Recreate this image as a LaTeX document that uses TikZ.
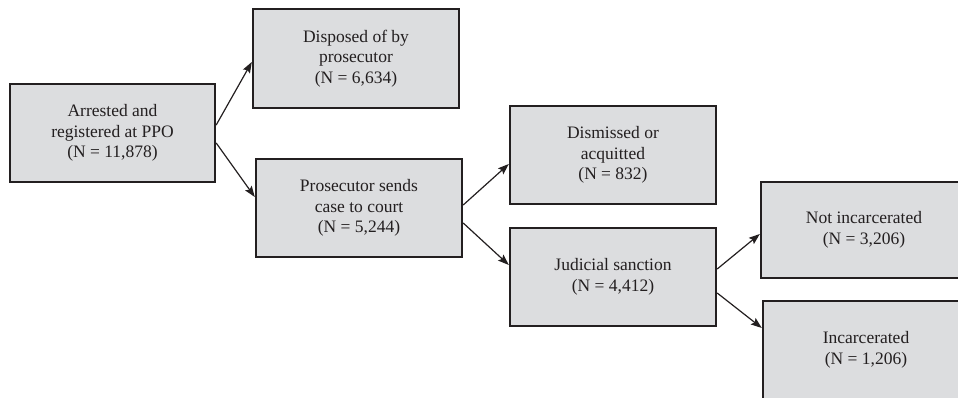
\documentclass[tikz,border=0pt]{standalone}
\usepackage{fontspec}
\setmainfont{Liberation Serif}
\usetikzlibrary{arrows.meta}
\definecolor{boxfill}{HTML}{DCDDDF}
\definecolor{boxline}{HTML}{231F20}
\begin{document}
\begin{tikzpicture}[x=1pt,y=-1pt,
  box/.style={draw=boxline, fill=boxfill, line width=2.4pt, rectangle,
    minimum width=206pt, minimum height=98pt, inner sep=0pt,
    align=center, font=\fontsize{17.5}{20.5}\selectfont, text=boxline},
  arr/.style={draw=boxline, line width=1.2pt, -{Stealth[length=11pt,width=8pt,inset=2pt]}}]
\useasboundingbox (0,0) rectangle (958,398);
\begin{scope}
\clip (0,0) rectangle (958,398);
\node[box, minimum width=205pt] (b1) at (112.5,133) {Arrested and\\registered at PPO\\(N = 11,878)};
\node[box, minimum height=99pt] (b2) at (356,58.5) {Disposed of by\\prosecutor\\(N = 6,634)};
\node[box] (b3) at (359,208) {Prosecutor sends\\case to court\\(N = 5,244)};
\node[box] (b4) at (613,155) {Dismissed or\\acquitted\\(N = 832)};
\node[box] (b5) at (613,277) {Judicial sanction\\(N = 4,412)};
\node[box, minimum height=96pt] (b6) at (864,230) {Not incarcerated\\(N = 3,206)};
\node[box] (b7) at (866,350) {Incarcerated\\(N = 1,206)};
\end{scope}
\draw[arr] ([yshift=8pt]b1.east) -- ([yshift=-3.5pt]b2.west);
\draw[arr] ([yshift=-10pt]b1.east) -- ([yshift=11pt]b3.west);
\draw[arr] ([yshift=3pt]b3.east) -- ([yshift=-9pt]b4.west);
\draw[arr] ([yshift=-15pt]b3.east) -- ([yshift=12pt]b5.west);
\draw[arr] ([yshift=8pt]b5.east) -- ([yshift=-4pt]b6.west);
\draw[arr] ([yshift=-16pt]b5.east) -- ([yshift=22pt]b7.west);
\end{tikzpicture}
\end{document}
